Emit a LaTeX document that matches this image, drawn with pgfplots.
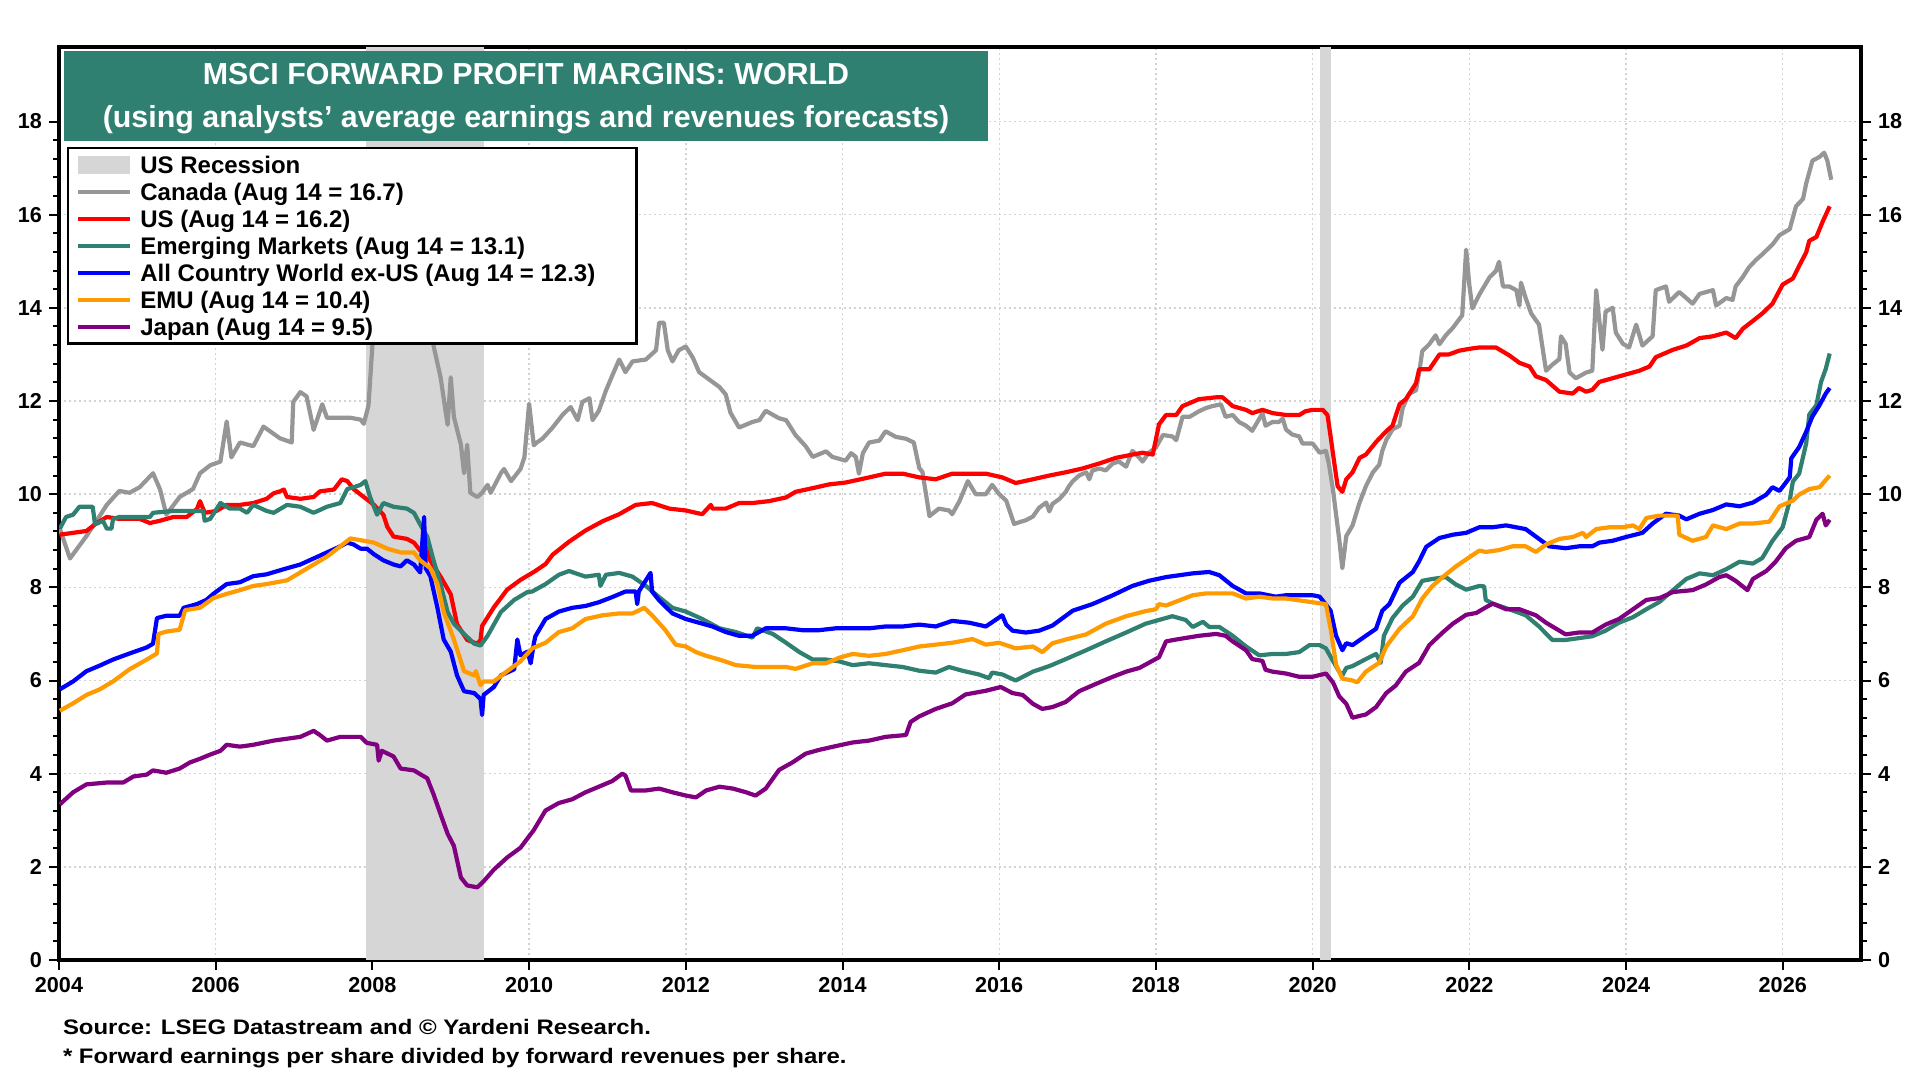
\documentclass[border=0pt]{standalone}
\usepackage{fontspec}
\setmainfont{Liberation Sans}
\newfontfamily\footfont{Liberation Sans}[FakeStretch=1.14]
\usepackage{pgfplots}
\pgfplotsset{compat=1.18}
\definecolor{cgray}{RGB}{150,150,150}
\definecolor{cred}{RGB}{255,0,0}
\definecolor{cteal}{RGB}{47,128,112}
\definecolor{cblue}{RGB}{0,0,255}
\definecolor{corange}{RGB}{255,155,0}
\definecolor{cpurple}{RGB}{128,0,128}
\definecolor{recgray}{RGB}{214,214,214}
\definecolor{titleteal}{RGB}{47,128,112}
\definecolor{gridgray}{RGB}{210,210,210}
\pgfplotsset{
  tickfont/.style={font=\bfseries\fontsize{10.8}{12}\selectfont},
  lineimg/.style={legend image code/.code={\draw[##1] (0pt,0pt) -- (26pt,0pt);}},
}
\begin{document}
\begin{tikzpicture}
\useasboundingbox (0,0) rectangle (960pt,540pt);
\begin{axis}[
  at={(29.5pt,60pt)}, anchor=south west, scale only axis,
  width=901pt, height=456.5pt,
  xmin=2004, xmax=2027, ymin=0, ymax=19.6,
  xtick={2004,2006,...,2026}, ytick={0,2,...,18},
  minor x tick num=7, minor y tick num=4,
  xtick pos=bottom, ytick pos=both,
  tick align=outside,
  major tick length=5pt, minor tick length=3pt,
  every tick/.style={black, line width=1pt},
  /pgf/number format/1000 sep={},
  /pgf/number format/assume math mode=true,
  ticklabel style={tickfont},
  axis line style={line width=2pt, line cap=rect},
  grid=major,
  major grid style={color=gridgray, line width=0.7pt, dash pattern=on 1pt off 1.5pt},
  legend cell align=left,
  legend style={at={(rel axis cs:0.0044,0.8905)}, anchor=north west,
    draw=black, line width=1.25pt, fill=white,
    font=\bfseries\fontsize{12}{13.45}\selectfont,
    inner xsep=4pt, inner ysep=1.8pt, row sep=0pt,
    nodes={inner sep=0pt, text height=10.9pt, text depth=2.55pt},
    /tikz/every odd column/.append style={column sep=4pt}},
  every axis plot/.append style={line width=2.1pt, line join=round},
]
\addplot[fill=recgray, draw=none, line width=0pt,
  legend image code/.code={\fill[recgray] (0pt,-4.5pt) rectangle (26pt,4.5pt);}]
  coordinates {(2007.92,0) (2007.92,19.6) (2009.42,19.6) (2009.42,0)} -- cycle;
\addlegendentry{US Recession}
\addplot[fill=recgray, draw=none, line width=0pt, forget plot]
  coordinates {(2020.09,0) (2020.09,19.6) (2020.24,19.6) (2020.24,0)} -- cycle;
% Canada
\addplot[cgray, lineimg] coordinates {
(2004.01,9.26)(2004.14,8.62)(2004.35,9.10)(2004.48,9.43)(2004.61,9.77)(2004.77,10.07)(2004.90,10.03)(2005.03,10.15)(2005.20,10.45)(2005.29,10.10)(2005.37,9.56)(2005.54,9.94)(2005.71,10.11)(2005.80,10.45)(2005.93,10.62)(2006.06,10.70)(2006.14,11.56)(2006.20,10.79)(2006.31,11.11)(2006.48,11.03)(2006.61,11.45)(2006.82,11.20)(2006.97,11.11)(2006.99,11.98)(2007.08,12.19)(2007.16,12.10)(2007.25,11.38)(2007.36,11.93)(2007.42,11.64)(2007.59,11.64)(2007.72,11.64)(2007.85,11.60)(2007.89,11.51)(2007.95,11.90)(2008.00,13.19)(2008.04,14.00)(2008.15,14.30)(2008.35,14.60)(2008.55,14.20)(2008.70,13.70)(2008.78,13.19)(2008.87,12.51)(2008.96,11.49)(2009.00,12.51)(2009.04,11.66)(2009.13,11.06)(2009.17,10.45)(2009.21,11.06)(2009.25,10.03)(2009.34,9.94)(2009.40,10.03)(2009.47,10.20)(2009.51,10.03)(2009.64,10.45)(2009.68,10.54)(2009.77,10.28)(2009.89,10.54)(2009.94,10.79)(2010.00,11.94)(2010.06,11.05)(2010.09,11.10)(2010.17,11.19)(2010.30,11.43)(2010.43,11.71)(2010.53,11.87)(2010.62,11.59)(2010.68,11.98)(2010.77,12.06)(2010.81,11.59)(2010.89,11.79)(2010.98,12.22)(2011.06,12.54)(2011.15,12.89)(2011.23,12.62)(2011.32,12.85)(2011.49,12.89)(2011.62,13.09)(2011.66,13.68)(2011.72,13.68)(2011.77,13.09)(2011.83,12.85)(2011.91,13.09)(2012.00,13.17)(2012.09,12.93)(2012.17,12.62)(2012.30,12.46)(2012.43,12.30)(2012.51,12.14)(2012.57,11.75)(2012.68,11.43)(2012.85,11.55)(2012.94,11.59)(2013.02,11.79)(2013.19,11.63)(2013.28,11.59)(2013.40,11.27)(2013.53,11.03)(2013.62,10.80)(2013.79,10.92)(2013.87,10.80)(2014.04,10.72)(2014.11,10.88)(2014.17,10.80)(2014.21,10.44)(2014.26,10.88)(2014.34,11.11)(2014.47,11.15)(2014.55,11.35)(2014.68,11.23)(2014.81,11.19)(2014.91,11.11)(2014.98,10.56)(2015.02,10.48)(2015.11,9.53)(2015.23,9.69)(2015.36,9.65)(2015.40,9.57)(2015.49,9.84)(2015.60,10.28)(2015.70,10.00)(2015.83,10.00)(2015.91,10.20)(2016.00,10.00)(2016.09,9.86)(2016.19,9.36)(2016.26,9.40)(2016.34,9.44)(2016.43,9.52)(2016.51,9.71)(2016.60,9.82)(2016.64,9.63)(2016.68,9.79)(2016.77,9.90)(2016.85,10.05)(2016.89,10.17)(2016.94,10.28)(2017.02,10.40)(2017.11,10.47)(2017.15,10.32)(2017.19,10.51)(2017.28,10.55)(2017.36,10.51)(2017.45,10.66)(2017.53,10.70)(2017.62,10.59)(2017.70,10.93)(2017.79,10.78)(2017.83,10.70)(2017.91,10.89)(2018.00,11.00)(2018.09,11.27)(2018.21,11.24)(2018.26,11.16)(2018.34,11.66)(2018.43,11.66)(2018.55,11.78)(2018.64,11.85)(2018.72,11.89)(2018.83,11.93)(2018.89,11.66)(2018.98,11.70)(2019.06,11.55)(2019.15,11.47)(2019.23,11.36)(2019.32,11.62)(2019.36,11.74)(2019.40,11.47)(2019.49,11.55)(2019.57,11.55)(2019.62,11.62)(2019.66,11.39)(2019.74,11.28)(2019.83,11.24)(2019.87,11.09)(2020.00,11.09)(2020.09,10.89)(2020.17,10.93)(2020.21,10.63)(2020.26,10.10)(2020.30,9.56)(2020.34,9.03)(2020.38,8.41)(2020.43,9.10)(2020.51,9.33)(2020.60,9.82)(2020.68,10.17)(2020.77,10.47)(2020.85,10.63)(2020.89,10.93)(2020.94,11.16)(2021.02,11.39)(2021.11,11.47)(2021.15,11.85)(2021.23,12.15)(2021.32,12.23)(2021.36,12.61)(2021.40,13.07)(2021.49,13.22)(2021.57,13.41)(2021.62,13.22)(2021.70,13.41)(2021.79,13.57)(2021.91,13.84)(2021.96,15.25)(2022.00,14.50)(2022.04,13.99)(2022.13,14.29)(2022.19,14.46)(2022.26,14.66)(2022.34,14.79)(2022.38,14.99)(2022.43,14.46)(2022.51,14.46)(2022.60,14.38)(2022.64,14.05)(2022.66,14.54)(2022.72,14.21)(2022.79,13.88)(2022.89,13.64)(2022.98,12.65)(2023.06,12.78)(2023.15,12.90)(2023.17,13.39)(2023.23,13.23)(2023.28,12.61)(2023.36,12.49)(2023.49,12.61)(2023.57,12.65)(2023.62,14.38)(2023.66,13.72)(2023.70,13.10)(2023.74,13.92)(2023.83,14.00)(2023.87,13.47)(2023.96,13.23)(2024.04,13.15)(2024.13,13.64)(2024.21,13.19)(2024.34,13.39)(2024.38,14.38)(2024.51,14.46)(2024.55,14.13)(2024.68,14.34)(2024.77,14.21)(2024.85,14.09)(2024.94,14.30)(2025.11,14.38)(2025.15,14.05)(2025.28,14.21)(2025.36,14.17)(2025.40,14.46)(2025.49,14.66)(2025.57,14.87)(2025.66,15.03)(2025.74,15.15)(2025.87,15.36)(2025.96,15.56)(2026.09,15.69)(2026.17,16.18)(2026.26,16.34)(2026.30,16.67)(2026.38,17.16)(2026.47,17.24)(2026.53,17.33)(2026.57,17.16)(2026.62,16.75)
};
\addlegendentry{Canada (Aug 14 = 16.7)}
% US
\addplot[cred, lineimg] coordinates {
(2004.01,9.13)(2004.18,9.17)(2004.35,9.21)(2004.48,9.38)(2004.61,9.51)(2004.77,9.47)(2005.03,9.47)(2005.16,9.38)(2005.29,9.43)(2005.46,9.51)(2005.63,9.51)(2005.76,9.68)(2005.80,9.85)(2005.86,9.60)(2006.01,9.64)(2006.14,9.77)(2006.31,9.77)(2006.48,9.81)(2006.65,9.90)(2006.74,10.02)(2006.82,10.06)(2006.87,10.10)(2006.91,9.94)(2007.08,9.90)(2007.25,9.94)(2007.33,10.06)(2007.51,10.10)(2007.61,10.32)(2007.68,10.28)(2007.76,10.11)(2007.89,9.94)(2008.02,9.77)(2008.14,9.56)(2008.19,9.30)(2008.27,9.09)(2008.44,9.04)(2008.53,8.96)(2008.61,8.79)(2008.68,8.87)(2008.74,8.57)(2008.87,8.23)(2009.00,7.85)(2009.08,7.21)(2009.21,6.87)(2009.34,6.79)(2009.38,6.87)(2009.40,7.17)(2009.55,7.57)(2009.72,7.95)(2009.89,8.16)(2010.06,8.33)(2010.21,8.50)(2010.30,8.70)(2010.51,8.98)(2010.72,9.22)(2010.94,9.42)(2011.15,9.57)(2011.36,9.77)(2011.57,9.81)(2011.79,9.69)(2012.00,9.65)(2012.21,9.57)(2012.32,9.77)(2012.34,9.69)(2012.51,9.69)(2012.68,9.81)(2012.85,9.81)(2013.06,9.85)(2013.28,9.93)(2013.40,10.05)(2013.62,10.13)(2013.83,10.21)(2014.04,10.25)(2014.34,10.36)(2014.55,10.44)(2014.77,10.44)(2014.98,10.36)(2015.19,10.32)(2015.40,10.44)(2015.62,10.44)(2015.83,10.44)(2016.04,10.36)(2016.21,10.24)(2016.43,10.32)(2016.64,10.40)(2016.85,10.47)(2017.06,10.55)(2017.28,10.66)(2017.49,10.78)(2017.70,10.85)(2017.83,10.89)(2017.96,10.85)(2018.04,11.50)(2018.13,11.70)(2018.26,11.70)(2018.34,11.89)(2018.55,12.04)(2018.77,12.08)(2018.85,12.08)(2018.98,11.89)(2019.15,11.81)(2019.23,11.74)(2019.36,11.81)(2019.49,11.74)(2019.66,11.70)(2019.83,11.70)(2019.91,11.78)(2020.00,11.81)(2020.13,11.81)(2020.19,11.70)(2020.23,11.24)(2020.28,10.63)(2020.32,10.17)(2020.38,10.05)(2020.43,10.32)(2020.51,10.47)(2020.60,10.78)(2020.68,10.85)(2020.81,11.12)(2020.94,11.35)(2021.02,11.47)(2021.11,11.93)(2021.19,12.04)(2021.32,12.38)(2021.36,12.68)(2021.49,12.68)(2021.62,13.00)(2021.74,13.00)(2021.87,13.08)(2022.00,13.12)(2022.13,13.15)(2022.34,13.15)(2022.51,12.98)(2022.64,12.82)(2022.77,12.74)(2022.85,12.53)(2022.98,12.45)(2023.15,12.20)(2023.32,12.16)(2023.40,12.28)(2023.49,12.20)(2023.57,12.24)(2023.66,12.41)(2023.83,12.49)(2024.00,12.57)(2024.17,12.65)(2024.30,12.74)(2024.38,12.94)(2024.60,13.10)(2024.77,13.19)(2024.94,13.35)(2025.11,13.39)(2025.28,13.47)(2025.40,13.35)(2025.49,13.55)(2025.62,13.72)(2025.74,13.88)(2025.87,14.09)(2026.00,14.50)(2026.13,14.63)(2026.21,14.90)(2026.30,15.19)(2026.34,15.44)(2026.43,15.52)(2026.51,15.85)(2026.60,16.18)
};
\addlegendentry{US (Aug 14 = 16.2)}
% Emerging Markets
\addplot[cteal, lineimg] coordinates {
(2004.01,9.26)(2004.09,9.51)(2004.18,9.56)(2004.26,9.73)(2004.43,9.73)(2004.46,9.35)(2004.56,9.43)(2004.61,9.26)(2004.67,9.26)(2004.69,9.47)(2004.77,9.51)(2004.95,9.51)(2005.16,9.51)(2005.20,9.60)(2005.46,9.64)(2005.67,9.64)(2005.84,9.64)(2005.86,9.43)(2005.93,9.47)(2006.06,9.81)(2006.18,9.69)(2006.31,9.69)(2006.40,9.60)(2006.48,9.77)(2006.65,9.64)(2006.74,9.60)(2006.91,9.77)(2007.08,9.73)(2007.25,9.60)(2007.42,9.73)(2007.59,9.81)(2007.68,10.11)(2007.76,10.15)(2007.85,10.20)(2007.91,10.28)(2007.97,9.94)(2008.06,9.56)(2008.14,9.81)(2008.27,9.73)(2008.44,9.69)(2008.53,9.60)(2008.61,9.35)(2008.70,9.09)(2008.78,8.58)(2008.87,8.07)(2008.96,7.47)(2009.04,7.22)(2009.17,7.00)(2009.30,6.79)(2009.38,6.75)(2009.47,6.96)(2009.64,7.47)(2009.81,7.73)(2009.98,7.90)(2010.04,7.91)(2010.21,8.07)(2010.38,8.27)(2010.51,8.35)(2010.72,8.23)(2010.89,8.27)(2010.91,8.03)(2010.98,8.27)(2011.15,8.31)(2011.32,8.23)(2011.49,8.03)(2011.66,7.79)(2011.83,7.56)(2012.00,7.48)(2012.21,7.32)(2012.43,7.12)(2012.64,7.04)(2012.85,6.92)(2012.91,7.12)(2013.11,7.00)(2013.28,6.81)(2013.45,6.61)(2013.62,6.45)(2013.79,6.45)(2013.96,6.41)(2014.13,6.33)(2014.34,6.37)(2014.55,6.33)(2014.77,6.29)(2014.98,6.21)(2015.19,6.17)(2015.36,6.29)(2015.53,6.21)(2015.74,6.13)(2015.87,6.05)(2015.91,6.17)(2016.04,6.13)(2016.21,6.00)(2016.43,6.19)(2016.64,6.31)(2016.85,6.46)(2017.11,6.65)(2017.36,6.84)(2017.62,7.03)(2017.87,7.22)(2018.21,7.38)(2018.38,7.30)(2018.47,7.15)(2018.60,7.26)(2018.68,7.15)(2018.81,7.15)(2018.98,6.96)(2019.15,6.73)(2019.32,6.54)(2019.49,6.57)(2019.66,6.57)(2019.83,6.61)(2019.96,6.76)(2020.09,6.76)(2020.17,6.69)(2020.26,6.42)(2020.34,6.19)(2020.38,6.11)(2020.43,6.27)(2020.51,6.31)(2020.68,6.46)(2020.81,6.57)(2020.87,6.38)(2020.91,6.96)(2021.02,7.34)(2021.15,7.61)(2021.28,7.80)(2021.40,8.14)(2021.53,8.18)(2021.70,8.22)(2021.83,8.06)(2021.96,7.95)(2022.13,8.03)(2022.19,8.02)(2022.21,7.73)(2022.30,7.65)(2022.51,7.53)(2022.72,7.40)(2022.89,7.16)(2023.06,6.87)(2023.23,6.87)(2023.40,6.91)(2023.57,6.95)(2023.74,7.07)(2023.91,7.24)(2024.09,7.36)(2024.26,7.53)(2024.43,7.69)(2024.60,7.94)(2024.77,8.18)(2024.94,8.30)(2025.11,8.26)(2025.28,8.39)(2025.45,8.55)(2025.62,8.51)(2025.74,8.63)(2025.87,9.00)(2026.00,9.29)(2026.09,9.86)(2026.13,10.27)(2026.21,10.44)(2026.30,11.09)(2026.34,11.71)(2026.43,11.91)(2026.49,12.41)(2026.55,12.69)(2026.60,13.02)
};
\addlegendentry{Emerging Markets (Aug 14 = 13.1)}
% All Country World ex-US
\addplot[cblue, lineimg] coordinates {
(2004.01,5.81)(2004.18,5.98)(2004.35,6.20)(2004.52,6.32)(2004.69,6.45)(2004.90,6.58)(2005.12,6.71)(2005.20,6.79)(2005.25,7.34)(2005.37,7.39)(2005.54,7.39)(2005.59,7.56)(2005.76,7.64)(2005.88,7.73)(2005.97,7.86)(2006.14,8.07)(2006.31,8.11)(2006.48,8.24)(2006.65,8.28)(2006.91,8.41)(2007.08,8.49)(2007.25,8.62)(2007.42,8.75)(2007.59,8.88)(2007.68,8.96)(2007.76,8.92)(2007.85,8.83)(2007.93,8.83)(2008.02,8.71)(2008.14,8.58)(2008.27,8.49)(2008.36,8.45)(2008.44,8.58)(2008.53,8.49)(2008.61,8.32)(2008.66,9.51)(2008.68,8.41)(2008.74,8.24)(2008.83,7.56)(2008.91,6.88)(2009.00,6.62)(2009.08,6.11)(2009.17,5.77)(2009.30,5.73)(2009.38,5.60)(2009.40,5.26)(2009.42,5.69)(2009.55,5.86)(2009.64,6.11)(2009.81,6.24)(2009.85,6.88)(2009.89,6.54)(2009.98,6.62)(2010.02,6.37)(2010.06,6.79)(2010.08,6.95)(2010.21,7.32)(2010.38,7.48)(2010.55,7.56)(2010.72,7.60)(2010.89,7.68)(2011.06,7.79)(2011.23,7.91)(2011.36,7.91)(2011.38,7.64)(2011.40,7.91)(2011.55,8.31)(2011.57,7.91)(2011.66,7.72)(2011.83,7.44)(2012.00,7.32)(2012.17,7.24)(2012.34,7.16)(2012.51,7.04)(2012.68,6.96)(2012.85,6.96)(2013.02,7.12)(2013.28,7.12)(2013.49,7.08)(2013.70,7.08)(2013.91,7.12)(2014.13,7.12)(2014.34,7.12)(2014.55,7.16)(2014.77,7.16)(2014.98,7.20)(2015.19,7.16)(2015.40,7.28)(2015.62,7.24)(2015.83,7.16)(2016.04,7.40)(2016.09,7.20)(2016.17,7.07)(2016.34,7.03)(2016.51,7.07)(2016.68,7.18)(2016.94,7.50)(2017.19,7.64)(2017.45,7.83)(2017.70,8.03)(2017.91,8.14)(2018.13,8.22)(2018.30,8.26)(2018.47,8.30)(2018.68,8.33)(2018.81,8.26)(2018.98,8.03)(2019.15,7.87)(2019.32,7.87)(2019.53,7.80)(2019.66,7.83)(2019.83,7.83)(2020.00,7.83)(2020.09,7.80)(2020.23,7.50)(2020.30,6.96)(2020.38,6.65)(2020.43,6.80)(2020.51,6.76)(2020.68,6.96)(2020.81,7.11)(2020.89,7.50)(2020.98,7.64)(2021.11,8.10)(2021.28,8.33)(2021.36,8.56)(2021.45,8.87)(2021.62,9.06)(2021.79,9.13)(2021.96,9.17)(2022.13,9.29)(2022.30,9.29)(2022.47,9.33)(2022.72,9.25)(2022.89,9.04)(2023.02,8.88)(2023.23,8.84)(2023.40,8.88)(2023.57,8.88)(2023.66,8.96)(2023.83,9.00)(2024.00,9.08)(2024.21,9.17)(2024.34,9.37)(2024.51,9.58)(2024.68,9.54)(2024.77,9.46)(2024.94,9.58)(2025.11,9.66)(2025.28,9.78)(2025.45,9.74)(2025.62,9.82)(2025.79,9.99)(2025.87,10.15)(2025.96,10.07)(2026.09,10.36)(2026.11,10.77)(2026.21,11.01)(2026.30,11.34)(2026.38,11.67)(2026.47,11.91)(2026.55,12.16)(2026.60,12.28)
};
\addlegendentry{\makebox[244pt][l]{All Country World ex-US (Aug 14 = 12.3)}}
% EMU
\addplot[corange, lineimg] coordinates {
(2004.01,5.35)(2004.18,5.51)(2004.35,5.69)(2004.52,5.81)(2004.69,5.98)(2004.90,6.24)(2005.12,6.45)(2005.25,6.58)(2005.27,7.00)(2005.37,7.05)(2005.54,7.09)(2005.61,7.51)(2005.80,7.56)(2005.97,7.77)(2006.14,7.86)(2006.31,7.94)(2006.48,8.03)(2006.65,8.07)(2006.91,8.15)(2007.08,8.32)(2007.25,8.49)(2007.42,8.66)(2007.59,8.88)(2007.72,9.05)(2007.89,9.00)(2008.02,8.96)(2008.19,8.83)(2008.36,8.75)(2008.53,8.75)(2008.61,8.58)(2008.74,8.41)(2008.83,8.07)(2008.91,7.47)(2009.04,6.88)(2009.17,6.20)(2009.30,6.11)(2009.32,6.20)(2009.38,5.90)(2009.42,5.98)(2009.55,5.98)(2009.72,6.20)(2009.89,6.41)(2010.04,6.69)(2010.21,6.81)(2010.38,7.04)(2010.55,7.12)(2010.72,7.32)(2010.94,7.40)(2011.15,7.44)(2011.32,7.44)(2011.47,7.56)(2011.57,7.40)(2011.74,7.08)(2011.87,6.77)(2012.00,6.73)(2012.13,6.61)(2012.26,6.53)(2012.43,6.45)(2012.64,6.33)(2012.89,6.29)(2013.11,6.29)(2013.28,6.29)(2013.40,6.25)(2013.62,6.37)(2013.79,6.37)(2013.96,6.49)(2014.13,6.57)(2014.34,6.53)(2014.55,6.57)(2014.77,6.65)(2014.98,6.73)(2015.19,6.77)(2015.40,6.81)(2015.66,6.89)(2015.83,6.77)(2016.00,6.81)(2016.21,6.69)(2016.43,6.73)(2016.55,6.61)(2016.68,6.80)(2016.85,6.88)(2017.11,6.99)(2017.36,7.22)(2017.62,7.38)(2017.87,7.49)(2018.00,7.53)(2018.04,7.64)(2018.13,7.61)(2018.30,7.72)(2018.47,7.83)(2018.64,7.87)(2018.81,7.87)(2018.98,7.87)(2019.15,7.76)(2019.32,7.80)(2019.49,7.76)(2019.66,7.76)(2019.83,7.72)(2020.00,7.68)(2020.17,7.64)(2020.23,7.11)(2020.30,6.34)(2020.38,6.04)(2020.51,6.00)(2020.57,5.96)(2020.68,6.19)(2020.85,6.38)(2020.94,6.73)(2021.11,7.11)(2021.28,7.38)(2021.40,7.76)(2021.53,8.03)(2021.66,8.22)(2021.83,8.45)(2021.96,8.60)(2022.13,8.79)(2022.21,8.76)(2022.38,8.80)(2022.55,8.88)(2022.72,8.88)(2022.85,8.76)(2022.98,8.92)(2023.15,9.04)(2023.32,9.08)(2023.45,9.17)(2023.49,9.08)(2023.62,9.25)(2023.79,9.29)(2023.96,9.29)(2024.09,9.33)(2024.17,9.25)(2024.26,9.49)(2024.43,9.54)(2024.66,9.54)(2024.68,9.13)(2024.85,9.00)(2025.02,9.08)(2025.11,9.33)(2025.28,9.25)(2025.45,9.37)(2025.62,9.37)(2025.83,9.41)(2025.96,9.74)(2026.13,9.86)(2026.21,9.99)(2026.34,10.11)(2026.47,10.15)(2026.60,10.40)
};
\addlegendentry{EMU (Aug 14 = 10.4)}
% Japan
\addplot[cpurple, lineimg] coordinates {
(2004.01,3.34)(2004.18,3.60)(2004.35,3.77)(2004.61,3.81)(2004.82,3.81)(2004.95,3.94)(2005.12,3.98)(2005.20,4.07)(2005.37,4.02)(2005.54,4.11)(2005.67,4.24)(2005.80,4.32)(2005.93,4.41)(2006.06,4.49)(2006.14,4.62)(2006.31,4.58)(2006.48,4.62)(2006.74,4.71)(2006.91,4.75)(2007.08,4.79)(2007.25,4.92)(2007.33,4.83)(2007.42,4.71)(2007.59,4.79)(2007.85,4.79)(2007.93,4.66)(2008.06,4.62)(2008.08,4.28)(2008.12,4.49)(2008.27,4.37)(2008.36,4.11)(2008.53,4.07)(2008.70,3.90)(2008.78,3.56)(2008.87,3.13)(2008.96,2.71)(2009.04,2.45)(2009.13,1.77)(2009.21,1.60)(2009.34,1.56)(2009.42,1.69)(2009.55,1.94)(2009.72,2.20)(2009.89,2.41)(2010.06,2.79)(2010.21,3.21)(2010.38,3.37)(2010.55,3.45)(2010.72,3.60)(2010.89,3.72)(2011.06,3.84)(2011.19,4.00)(2011.23,3.96)(2011.30,3.64)(2011.49,3.64)(2011.66,3.68)(2011.83,3.60)(2012.00,3.53)(2012.13,3.49)(2012.26,3.64)(2012.43,3.72)(2012.60,3.68)(2012.77,3.60)(2012.89,3.53)(2013.02,3.68)(2013.19,4.08)(2013.36,4.24)(2013.53,4.43)(2013.70,4.51)(2013.91,4.59)(2014.13,4.67)(2014.34,4.71)(2014.55,4.79)(2014.81,4.83)(2014.87,5.11)(2014.98,5.23)(2015.19,5.39)(2015.40,5.51)(2015.57,5.70)(2015.83,5.78)(2016.02,5.86)(2016.17,5.73)(2016.30,5.69)(2016.43,5.50)(2016.55,5.39)(2016.68,5.43)(2016.85,5.54)(2017.02,5.77)(2017.28,5.96)(2017.45,6.08)(2017.62,6.19)(2017.79,6.27)(2017.91,6.38)(2018.04,6.50)(2018.13,6.84)(2018.26,6.88)(2018.55,6.96)(2018.77,7.00)(2018.89,6.96)(2018.98,6.84)(2019.15,6.65)(2019.23,6.46)(2019.36,6.42)(2019.40,6.23)(2019.49,6.19)(2019.66,6.15)(2019.83,6.08)(2020.00,6.08)(2020.17,6.15)(2020.26,5.96)(2020.34,5.66)(2020.43,5.50)(2020.51,5.20)(2020.60,5.24)(2020.68,5.27)(2020.81,5.43)(2020.94,5.73)(2021.06,5.89)(2021.19,6.19)(2021.36,6.38)(2021.49,6.76)(2021.66,7.03)(2021.79,7.22)(2021.96,7.41)(2022.09,7.45)(2022.21,7.57)(2022.30,7.65)(2022.47,7.53)(2022.64,7.53)(2022.85,7.40)(2022.98,7.24)(2023.15,7.07)(2023.23,6.99)(2023.40,7.03)(2023.57,7.03)(2023.74,7.20)(2023.91,7.32)(2024.09,7.53)(2024.26,7.73)(2024.43,7.77)(2024.60,7.90)(2024.85,7.94)(2025.02,8.06)(2025.19,8.22)(2025.28,8.26)(2025.40,8.14)(2025.49,8.02)(2025.55,7.94)(2025.62,8.18)(2025.79,8.35)(2025.91,8.55)(2026.04,8.84)(2026.17,9.00)(2026.34,9.08)(2026.43,9.45)(2026.51,9.58)(2026.55,9.33)(2026.60,9.45)
};
\addlegendentry{Japan (Aug 14 = 9.5)}
\end{axis}
% right-hand tick labels
\begin{axis}[
  at={(29.5pt,60pt)}, anchor=south west, scale only axis,
  width=901pt, height=456.5pt,
  xmin=2004, xmax=2027, ymin=0, ymax=19.6,
  hide x axis, axis y line*=right,
  y axis line style={draw=none},
  ytick={0,2,...,18}, tick align=outside, major tick length=5pt,
  ytick style={draw=none},
  /pgf/number format/assume math mode=true,
  ticklabel style={tickfont},
]
\addplot[draw=none] coordinates {(2004,0)};
\end{axis}
% title box
\fill[titleteal] (32pt,469.5pt) rectangle (494pt,514.5pt);
\node[anchor=base, text=white, font=\bfseries\fontsize{15.2}{18}\selectfont] at (263pt,497.5pt) {MSCI FORWARD PROFIT MARGINS: WORLD};
\node[anchor=base, text=white, font=\bfseries\fontsize{15.2}{18}\selectfont] at (263pt,476pt) {(using analysts’ average earnings and revenues forecasts)};
% footnotes
\node[anchor=base west, inner sep=0pt, font=\footfont\bfseries\fontsize{10.5}{12}\selectfont] at (31.3pt,22.5pt) {Source: LSEG Datastream and © Yardeni Research.};
\node[anchor=base west, inner sep=0pt, font=\footfont\bfseries\fontsize{10.5}{12}\selectfont] at (31.3pt,8.2pt) {* Forward earnings per share divided by forward revenues per share.};
\end{tikzpicture}
\end{document}
